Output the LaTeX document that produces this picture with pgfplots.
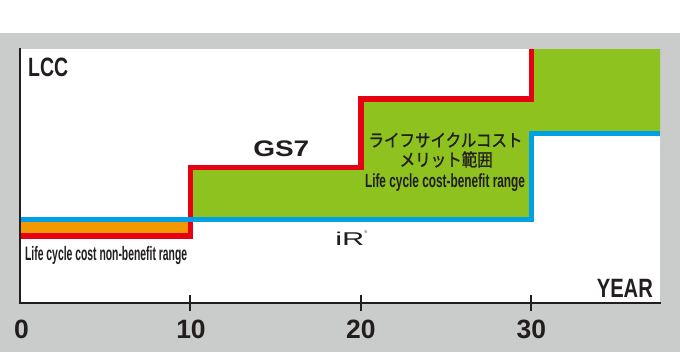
\documentclass[border=0pt]{standalone}
\usepackage{pgfplots}
\pgfplotsset{compat=1.18}
\usepackage{graphicx}
\usepackage{fontspec}
\setmainfont{Liberation Sans}
\newfontfamily\jp[FakeBold=1.2]{Noto Sans CJK JP}
\definecolor{lccred}{RGB}{230,0,18}
\definecolor{lccblue}{RGB}{0,160,233}
\definecolor{lccgreen}{RGB}{141,194,31}
\definecolor{lccorange}{RGB}{243,152,0}
\definecolor{bggray}{RGB}{202,203,203}
\definecolor{ink}{RGB}{35,30,30}
\tikzset{tlab/.style={anchor=north, inner sep=0pt, text=ink, yshift=-17pt, font=\fontsize{26.5}{26.5}\selectfont\bfseries}}
\begin{document}
\begin{tikzpicture}[x=1pt,y=1pt]
\useasboundingbox (0,0) rectangle (680,357);
\fill[white] (0,0) rectangle (680,357);
\fill[bggray] (0,5) rectangle (680,324);
\begin{axis}[
  at={(20pt,54pt)}, anchor=south west,
  scale only axis, width=640pt, height=254pt,
  xmin=0, xmax=37.54, ymin=0, ymax=254,
  axis background/.style={fill=white},
  axis x line=bottom, axis y line=left,
  axis line style={-, line width=2.5pt, color=ink, line cap=rect},
  xtick={10,20,30}, xticklabels={{},{},{}}, ytick=\empty,
  tick align=center, major tick length=16pt,
  tick style={line width=2pt, color=ink},
  clip=false, axis on top,
]
\addplot[fill=lccorange, draw=none] coordinates {(0,67) (10,67) (10,83.5) (0,83.5)} -- cycle;
\addplot[fill=lccgreen, draw=none] coordinates {(10,83.5) (10,135.5) (20,135.5) (20,204) (30,204) (30,254) (37.54,254) (37.54,169.5) (30,169.5) (30,83.5)} -- cycle;
\addplot[lccred, line width=5.5pt, line join=miter] coordinates {(0,67) (10,67) (10,135.5) (20,135.5) (20,204) (30,204) (30,254)};
\addplot[lccblue, line width=4.5pt, line join=miter] coordinates {(0,83.5) (30,83.5) (30,169.5) (37.54,169.5)};

% axis titles
\node[anchor=base west, inner sep=0pt, text=ink] at (axis cs:0.47,227) {\resizebox{40pt}{\height}{\fontsize{26.5}{26.5}\selectfont\bfseries LCC}};
\node[anchor=base east, inner sep=0pt, text=ink] at (axis cs:37.13,6) {\resizebox{56pt}{\height}{\fontsize{26.5}{26.5}\selectfont\bfseries YEAR}};
\node[anchor=base west, inner sep=0pt, text=ink] at (axis cs:13.67,147) {\resizebox{56pt}{\height}{\fontsize{22.5}{22.5}\selectfont\bfseries GS7}};
% benefit range texts
\node[anchor=center, inner sep=0pt, text=ink] at (axis cs:24.96,163) {\scalebox{0.886}[1]{\jp\fontsize{17.5}{17.5}\selectfont ライフサイクルコスト}};
\node[anchor=center, inner sep=0pt, text=ink] at (axis cs:25.0,143.5) {\scalebox{0.886}[1]{\jp\fontsize{17.5}{17.5}\selectfont メリット範囲}};
\node[anchor=base, inner sep=0pt, text=ink] at (axis cs:24.93,116) {\resizebox{160pt}{\height}{\fontsize{19}{19}\selectfont\bfseries Life cycle cost-benefit range}};
\node[anchor=base west, inner sep=0pt, text=ink] at (axis cs:0.29,43) {\resizebox{162pt}{\height}{\fontsize{19.5}{19.5}\selectfont\bfseries Life cycle cost non-benefit range}};
% iR
\node[anchor=base west, inner sep=0pt, text=ink] at (axis cs:18.48,58) {\resizebox{29pt}{\height}{\fontsize{18.5}{18.5}\selectfont iR}\raisebox{12pt}{\fontsize{4}{4}\selectfont ®}};
% tick labels
\node[tlab] at (axis cs:0.09,0) {0};
\node[tlab] at (axis cs:10.03,0) {10};
\node[tlab] at (axis cs:20.0,0) {20};
\node[tlab] at (axis cs:30.0,0) {30};
\end{axis}
\end{tikzpicture}
\end{document}
